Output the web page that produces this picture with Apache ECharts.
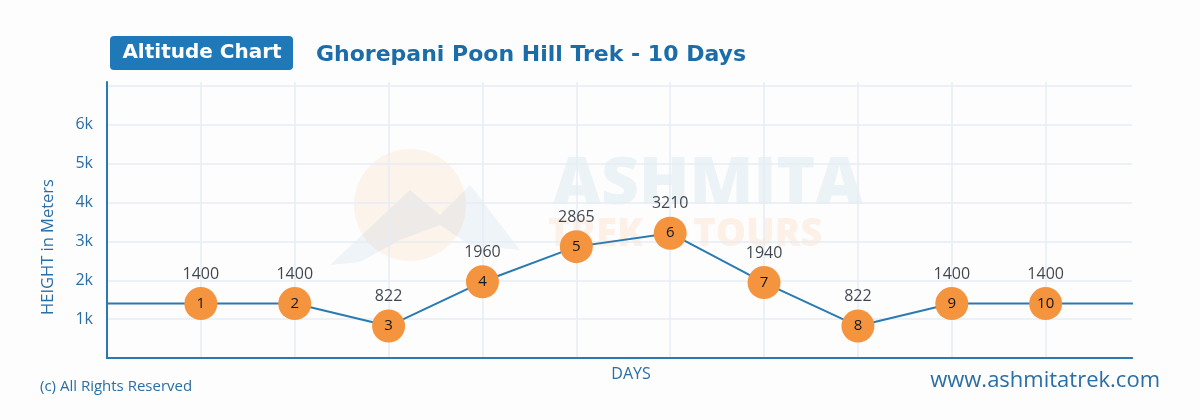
<!DOCTYPE html>
<html><head><meta charset="utf-8">
<script src="https://cdn.jsdelivr.net/npm/echarts@6/dist/echarts.min.js"></script>
<style>html,body{margin:0;padding:0;background:#fdfdfd}#c{width:1200px;height:420px}</style>
</head><body><div id="c"></div>
<script>
const days = [1,2,3,4,5,6,7,8,9,10];
const heights = [1400,1400,822,1960,2865,3210,1940,822,1400,1400];
const edgeHeight = 1400; // line continues at this level to both frame edges
const yTicks = ['1k','2k','3k','4k','5k','6k'];
const titleBox = 'Altitude Chart';
const titleText = 'Ghorepani Poon Hill Trek - 10 Days';

const BLUE = '#2a7ab2';
const chart = echarts.init(document.getElementById('c'), null, {renderer:'canvas'});

const lineData = [{value:[0, edgeHeight], symbol:'none', label:{show:false}}]
  .concat(days.map((d,i)=>({value:[d, heights[i]]})))
  .concat([{value:[11, edgeHeight], symbol:'none', label:{show:false}}]);

chart.setOption({
  backgroundColor:'#fdfdfd',
  animation:false,
  grid:{left:107, right:68, top:82, bottom:62},
  xAxis:[{
    type:'value', min:0, max:10.92, interval:1,
    axisLine:{show:true, onZero:false, lineStyle:{color:BLUE, width:2}},
    axisTick:{show:false}, axisLabel:{show:false},
    splitLine:{show:true, showMinLine:false, showMaxLine:false, lineStyle:{color:'#e6edf4', width:1.5}}
  },{
    type:'value', position:'top', min:0, max:10.92,
    axisLine:{show:true, lineStyle:{color:BLUE, width:2}},
    axisTick:{show:false}, axisLabel:{show:false}, splitLine:{show:false}
  }],
  yAxis:{
    type:'value', min:0, max:7100, interval:1000,
    axisLine:{show:true, onZero:false, lineStyle:{color:BLUE, width:2}},
    axisTick:{show:false},
    axisLabel:{margin:14, color:'#2a6ea6', fontSize:16, fontFamily:'Open Sans',
      formatter:v=>{const k=Math.round(v/1000); return (v%1000===0 && k>=1 && k<=yTicks.length)? yTicks[k-1] : '';}},
    splitLine:{show:true, showMinLine:false, showMaxLine:false, lineStyle:{color:'#e6edf4', width:1.5}}
  },
  graphic:[
    {type:'circle', shape:{cx:410, cy:205, r:56}, style:{fill:'rgba(246,160,80,0.10)'}, silent:true, z:-1},
    {type:'polygon', shape:{points:[[330,265],[410,190],[440,215],[470,185],[520,250],[470,245],[440,225],[400,240],[360,262]]}, style:{fill:'rgba(42,122,178,0.07)'}, silent:true, z:-1},
    {type:'text', left:553, top:152, silent:true, z:-1, style:{text:'ASHMITA', font:'900 66px "Open Sans"', fill:'rgba(42,122,178,0.08)'}},
    {type:'text', left:548, top:216, silent:true, z:-1, style:{text:'TREK & TOURS', font:'900 38px "Open Sans"', fill:'rgba(246,150,70,0.12)'}},
    {type:'rect', shape:{x:110, y:36, width:183, height:34, r:4}, style:{fill:'#1f78b8'}},
    {type:'text', x:202, y:53, style:{text:titleBox, font:'bold 20px "DejaVu Sans"', fill:'#ffffff', align:'center', verticalAlign:'middle'}},
    {type:'text', x:316, y:55, style:{text:titleText, font:'bold 22px "DejaVu Sans"', fill:'#1c6ca8', align:'left', verticalAlign:'middle'}},
    {type:'text', x:48, y:247, rotation:Math.PI/2, style:{text:'HEIGHT in Meters', font:'16.5px "Open Sans"', fill:'#2a6ea6', align:'center', verticalAlign:'middle'}},
    {type:'text', x:631, y:374, style:{text:'DAYS', font:'16px "Open Sans"', fill:'#2a6ea6', align:'center', verticalAlign:'middle'}},
    {type:'text', x:40, y:387, style:{text:'(c) All Rights Reserved', font:'15px "Open Sans"', fill:'#2a6ea6', align:'left', verticalAlign:'middle'}},
    {type:'text', x:1160, y:381, style:{text:'www.ashmitatrek.com', font:'22px "Open Sans"', fill:'#2a6ea6', align:'right', verticalAlign:'middle'}}
  ],
  series:[{
    type:'line', data:lineData, xAxisIndex:0,
    lineStyle:{color:BLUE, width:2}, clip:true,
    symbol:'circle', symbolSize:33,
    itemStyle:{color:'#f5943e', borderWidth:0},
    label:{show:true, position:'inside', color:'#0f1722', fontSize:15, fontFamily:'Open Sans',
      formatter:p=>String(p.value[0])},
    z:3
  },{
    type:'scatter', xAxisIndex:0, symbolSize:33,
    data:days.map((d,i)=>[d, heights[i]]),
    itemStyle:{color:'rgba(0,0,0,0)'},
    label:{show:true, position:'top', distance:5, color:'#0f1722', fontSize:16, fontWeight:500, fontFamily:'Open Sans',
      formatter:p=>String(p.value[1])},
    z:4
  }]
});
</script></body></html>
